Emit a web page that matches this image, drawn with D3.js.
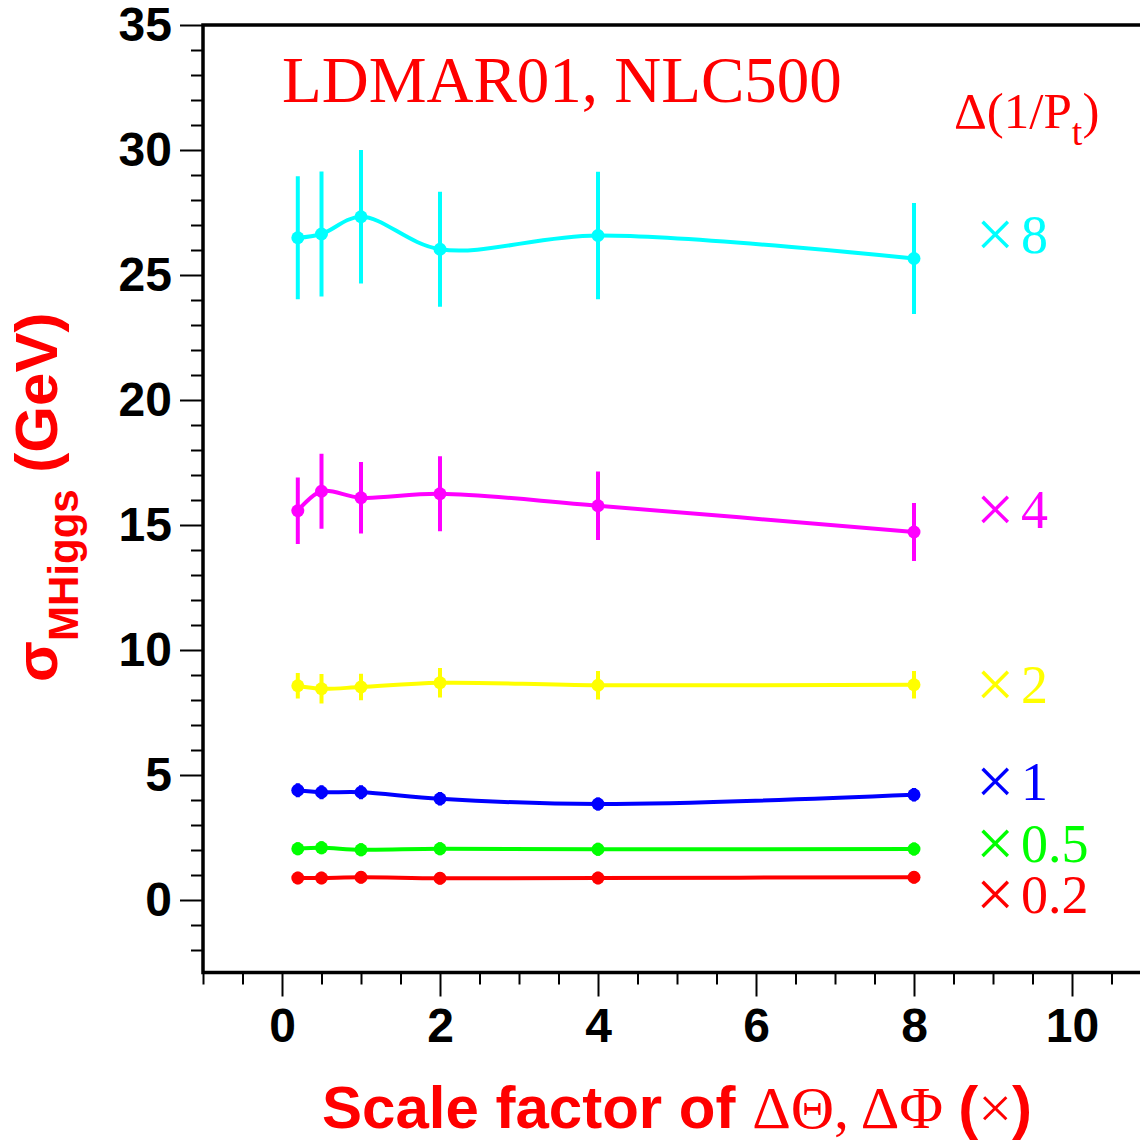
<!DOCTYPE html>
<html lang="en">

<head>
    <meta charset="UTF-8">
    <title>sigma MHiggs vs scale factor</title>
</head>
<style>
    html,
    body {
        margin: 0;
        padding: 0;
        background: #fff;
    }
</style>

<body>
    <script src="https://cdn.jsdelivr.net/npm/d3@7"></script>
    <script>
        // scale factors of dTheta, dPhi (x axis)
        var xs = [0.2, 0.5, 1, 2, 4, 8];
        // one series per scale of d(1/Pt)
        var ptScales = ["8", "4", "2", "1", "0.5", "0.2"];
        var colors = ["#00ffff", "#ff00ff", "#ffff00", "#0000ff", "#00ff00", "#ff0000"];
        var sig8 = [26.49, 26.64, 27.33, 26.03, 26.58, 25.66];
        var err8 = [2.46, 2.5, 2.67, 2.3, 2.55, 2.22];
        var sig4 = [15.57, 16.35, 16.09, 16.25, 15.77, 14.72];
        var err4 = [1.33, 1.5, 1.43, 1.5, 1.37, 1.16];
        var sig2 = [8.57, 8.45, 8.52, 8.69, 8.59, 8.61];
        var err2 = [0.51, 0.59, 0.53, 0.59, 0.57, 0.55];
        var sig1 = [4.39, 4.31, 4.31, 4.05, 3.84, 4.21];
        var err1 = [0.28, 0.28, 0.28, 0.27, 0.26, 0.27];
        var sig05 = [2.05, 2.09, 2.01, 2.05, 2.03, 2.04];
        var err05 = [0.26, 0.26, 0.26, 0.26, 0.26, 0.26];
        var sig02 = [0.88, 0.88, 0.91, 0.87, 0.88, 0.91];
        var err02 = [0.25, 0.25, 0.25, 0.25, 0.25, 0.25];
        // where each "x N" label sits, in data units
        var labelY = [25.9, 14.9, 7.9, 4.0, 1.52, -0.52];
        var xMajor = [0, 2, 4, 6, 8, 10];
        var yMajor = [0, 5, 10, 15, 20, 25, 30, 35];

        var sigs = [sig8, sig4, sig2, sig1, sig05, sig02];
        var errs = [err8, err4, err2, err1, err05, err02];

        var W = 1140, H = 1140;
        var svg = d3.select('body').append('svg').attr('width', W).attr('height', H);

        var x = d3.scaleLinear().domain([-1, 11]).range([203, 1151]);
        var y = d3.scaleLinear().domain([-2.9, 35]).range([972.5, 25]);

        //刻度
        var xMinor = d3.range(-1, 11.01, 0.5).filter(function (v) { return xMajor.indexOf(v) < 0; });
        var yMinor = d3.range(-2, 35.01, 1).filter(function (v) { return yMajor.indexOf(v) < 0; });

        svg.append('g').attr('transform', 'translate(0,' + y.range()[0] + ')')
            .call(d3.axisBottom(x).tickValues(xMinor).tickSize(12).tickSizeOuter(0).tickFormat(''))
            .call(function (g) { g.select('.domain').remove(); })
            .selectAll('line').attr('stroke-width', 2);
        var gx = svg.append('g').attr('transform', 'translate(0,' + y.range()[0] + ')')
            .call(d3.axisBottom(x).tickValues(xMajor).tickSize(24).tickSizeOuter(0).tickPadding(11).tickFormat(d3.format('d')));
        gx.select('.domain').remove();
        gx.selectAll('line').attr('stroke-width', 2);
        gx.selectAll('text').attr('font-family', 'Liberation Sans, Arial, sans-serif').attr('font-weight', 'bold').attr('font-size', 48).attr('fill', '#000');

        svg.append('g').attr('transform', 'translate(' + x.range()[0] + ',0)')
            .call(d3.axisLeft(y).tickValues(yMinor).tickSize(12).tickSizeOuter(0).tickFormat(''))
            .call(function (g) { g.select('.domain').remove(); })
            .selectAll('line').attr('stroke-width', 2);
        var gy = svg.append('g').attr('transform', 'translate(' + x.range()[0] + ',0)')
            .call(d3.axisLeft(y).tickValues(yMajor).tickSize(23).tickSizeOuter(0).tickPadding(8).tickFormat(d3.format('d')));
        gy.select('.domain').remove();
        gy.selectAll('line').attr('stroke-width', 2);
        gy.selectAll('text').attr('font-family', 'Liberation Sans, Arial, sans-serif').attr('font-weight', 'bold').attr('font-size', 48).attr('fill', '#000');

        //框
        svg.append('rect').attr('x', x.range()[0]).attr('y', y.range()[1])
            .attr('width', x.range()[1] - x.range()[0]).attr('height', y.range()[0] - y.range()[1])
            .attr('fill', 'none').attr('stroke', '#000').attr('stroke-width', 3.5);

        //曲线
        var line = d3.line().x(function (d) { return x(d[0]); }).y(function (d) { return y(d[1]); })
            .curve(d3.curveCatmullRom.alpha(0.5));

        sigs.forEach(function (s, i) {
            var pts = xs.map(function (v, j) { return [v, s[j]]; });
            var g = svg.append('g');
            g.append('path').attr('d', line(pts)).attr('fill', 'none')
                .attr('stroke', colors[i]).attr('stroke-width', 4);
            g.selectAll('line.err').data(pts).enter().append('line')
                .attr('x1', function (d) { return x(d[0]); }).attr('x2', function (d) { return x(d[0]); })
                .attr('y1', function (d, j) { return y(d[1] + errs[i][j]); })
                .attr('y2', function (d, j) { return y(d[1] - errs[i][j]); })
                .attr('stroke', colors[i]).attr('stroke-width', 4);
            g.selectAll('circle').data(pts).enter().append('circle')
                .attr('cx', function (d) { return x(d[0]); }).attr('cy', function (d) { return y(d[1]); })
                .attr('r', 6.5).attr('fill', colors[i]);
            var lab = svg.append('text').attr('y', y(labelY[i]))
                .attr('font-family', 'Liberation Serif, Times New Roman, serif')
                .attr('fill', colors[i]);
            lab.append('tspan').attr('x', 976).attr('font-size', 68).attr('dy', 4).text('\u00d7');
            lab.append('tspan').attr('x', 1021).attr('font-size', 54).attr('dy', -4).text(ptScales[i]);
        });

        //标题
        svg.append('text').attr('x', 282).attr('y', 102)
            .attr('font-family', 'Liberation Serif, Times New Roman, serif').attr('font-size', 65)
            .attr('fill', '#ff0000').text('LDMAR01, NLC500');

        var pt = svg.append('text').attr('x', 954).attr('y', 128)
            .attr('font-family', 'Liberation Serif, Times New Roman, serif').attr('font-size', 51)
            .attr('fill', '#ff0000');
        pt.append('tspan').text('\u0394(1/P');
        pt.append('tspan').attr('font-size', 38).attr('dy', 17).text('t');
        pt.append('tspan').attr('dy', -17).text(')');

        // x title
        var xt = svg.append('text').attr('x', 322).attr('y', 1128).attr('fill', '#ff0000').attr('font-size', 60);
        xt.append('tspan').attr('font-family', 'Liberation Sans, Arial, sans-serif').attr('font-weight', 'bold').text('Scale factor of ');
        xt.append('tspan').attr('font-family', 'Liberation Serif, Times New Roman, serif').text('\u0394\u0398, \u0394\u03a6 ');
        xt.append('tspan').attr('font-family', 'Liberation Sans, Arial, sans-serif').attr('font-weight', 'bold').text('(');
        xt.append('tspan').attr('font-family', 'Liberation Serif, Times New Roman, serif').text('\u00d7');
        xt.append('tspan').attr('font-family', 'Liberation Sans, Arial, sans-serif').attr('font-weight', 'bold').text(')');

        // y title
        var yt = svg.append('text').attr('transform', 'translate(57,682) rotate(-90)')
            .attr('fill', '#ff0000').attr('font-family', 'Liberation Sans, Arial, sans-serif')
            .attr('font-weight', 'bold').attr('font-size', 60);
        yt.append('tspan').text('\u03c3');
        yt.append('tspan').attr('font-size', 42).attr('dy', 21).text('MHiggs');
        yt.append('tspan').attr('dy', -21).text(' (GeV)');
    </script>
</body>

</html>
